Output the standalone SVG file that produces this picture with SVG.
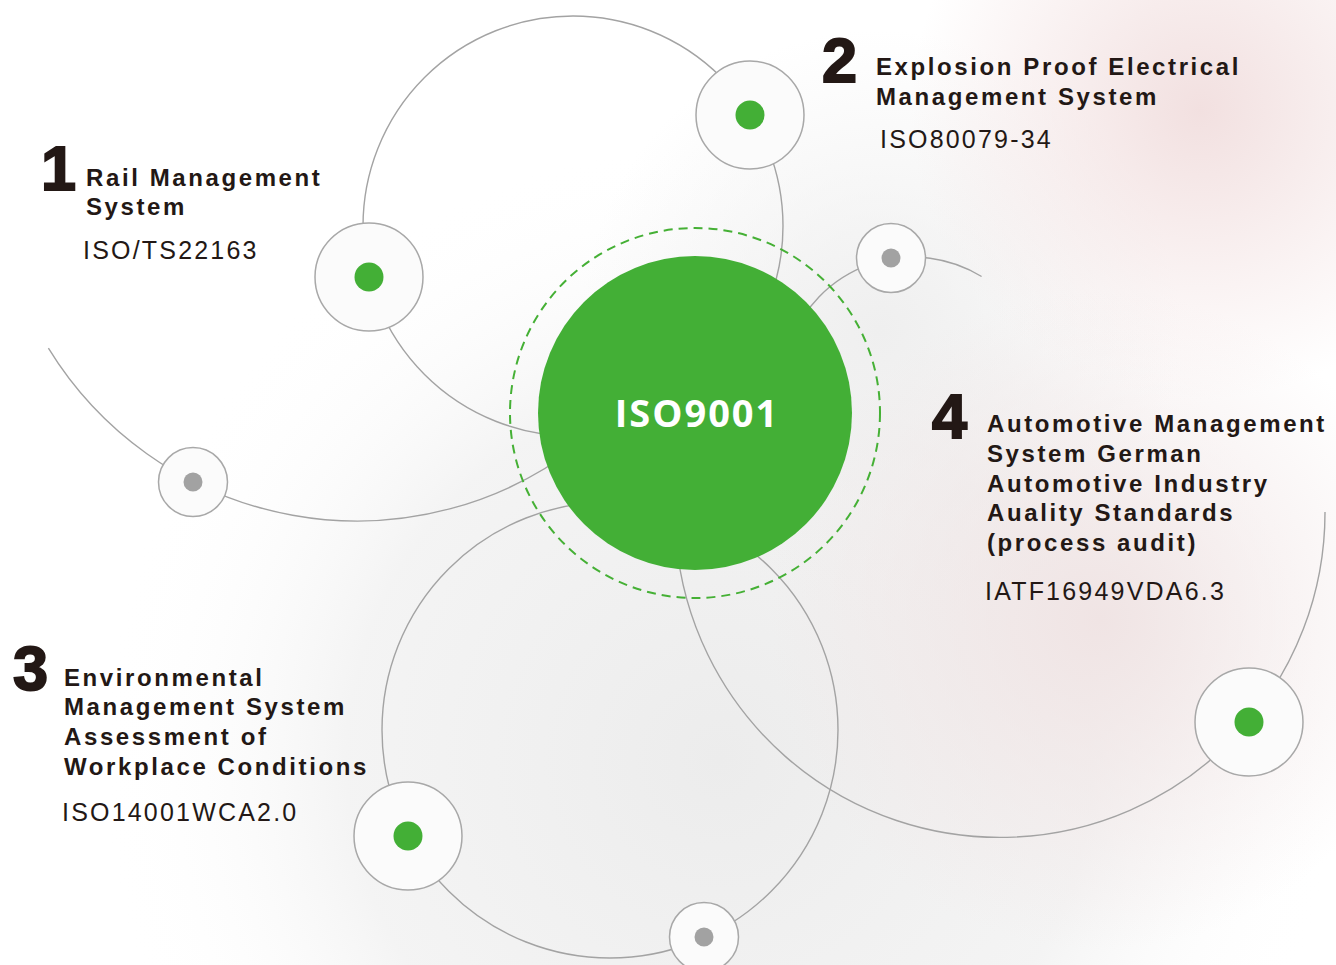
<svg xmlns="http://www.w3.org/2000/svg" width="1336" height="965" viewBox="0 0 1336 965">
<defs>
<radialGradient id="bgGray" cx="720" cy="760" r="620" gradientUnits="userSpaceOnUse">
<stop offset="0" stop-color="#ECECEC"/>
<stop offset="0.6" stop-color="#F1F1F1" stop-opacity="0.8"/>
<stop offset="1" stop-color="#FFFFFF" stop-opacity="0"/>
</radialGradient>
<radialGradient id="bgPink1" cx="1200" cy="110" r="290" gradientUnits="userSpaceOnUse">
<stop offset="0" stop-color="#F2E0E0"/>
<stop offset="1" stop-color="#F2E0E0" stop-opacity="0"/>
</radialGradient>
<radialGradient id="bgPink2" cx="1100" cy="620" r="330" gradientUnits="userSpaceOnUse">
<stop offset="0" stop-color="#F0E4E4"/>
<stop offset="1" stop-color="#F0E4E4" stop-opacity="0"/>
</radialGradient>
<radialGradient id="bgGray2" cx="880" cy="330" r="300" gradientUnits="userSpaceOnUse">
<stop offset="0" stop-color="#EFEFEF"/>
<stop offset="1" stop-color="#EFEFEF" stop-opacity="0"/>
</radialGradient>
<style>
.arc{fill:none;stroke:#A3A3A3;stroke-width:1.4}
.ring{fill:#FBFBFB;stroke:#A8A8A8;stroke-width:1.5}
.gdot{fill:#43AF36}
.sdot{fill:#A2A2A2}
.num{font-family:"Liberation Sans",Arial,sans-serif;font-weight:bold;font-size:63px;fill:#231815;stroke:#231815;stroke-width:2}
.title{font-family:"Liberation Sans",Arial,sans-serif;font-weight:bold;font-size:24px;letter-spacing:2.6px;fill:#231815}
.code{font-family:"Liberation Sans",Arial,sans-serif;font-size:25px;letter-spacing:2.2px;fill:#231815}
</style>
</defs>
<rect width="1336" height="965" fill="#FFFFFF"/>
<rect width="1336" height="965" fill="url(#bgGray)"/>
<rect width="1336" height="965" fill="url(#bgGray2)"/>
<rect width="1336" height="965" fill="url(#bgPink1)"/>
<rect width="1336" height="965" fill="url(#bgPink2)"/>

<g id="connectors">
<circle class="arc" cx="573" cy="226" r="210"/>
<path class="arc" d="M 48.4 348.1 A 362 362 0 0 0 579.9 444.3"/>
<circle class="arc" cx="610" cy="730" r="228"/>
<path class="arc" d="M 676.2 540.3 A 325 325 0 0 0 1325 512"/>
<path class="arc" d="M 789.9 343.2 A 131 131 0 0 1 981.6 276.5"/>
</g>

<g id="center">
<circle cx="695" cy="413" r="185" fill="none" stroke="#45B035" stroke-width="2" stroke-dasharray="9 6"/>
<circle cx="695" cy="413" r="157" fill="#43AF36"/>
<text x="697" y="427" text-anchor="middle" font-family="'Open Sans','Noto Sans',sans-serif" font-weight="bold" font-size="38" letter-spacing="2" fill="#FFFFFF">ISO9001</text>
</g>

<g id="node1">
<circle class="ring" cx="369" cy="277" r="54"/>
<circle class="gdot" cx="369" cy="277" r="14.5"/>
<text class="num" x="41" y="190">1</text>
<text class="title" x="86" y="186">Rail Management</text>
<text class="title" x="86" y="215">System</text>
<text class="code" x="83" y="259">ISO/TS22163</text>
</g>

<g id="node2">
<circle class="ring" cx="750" cy="115" r="54"/>
<circle class="gdot" cx="750" cy="115" r="14.5"/>
<text class="num" x="822" y="82">2</text>
<text class="title" x="876" y="75">Explosion Proof Electrical</text>
<text class="title" x="876" y="105">Management System</text>
<text class="code" x="880" y="148">ISO80079-34</text>
</g>

<g id="node3">
<circle class="ring" cx="408" cy="836" r="54"/>
<circle class="gdot" cx="408" cy="836" r="14.5"/>
<text class="num" x="13" y="690">3</text>
<text class="title" x="64" y="686">Environmental</text>
<text class="title" x="64" y="715">Management System</text>
<text class="title" x="64" y="745">Assessment of</text>
<text class="title" x="64" y="775">Workplace Conditions</text>
<text class="code" x="62" y="821">ISO14001WCA2.0</text>
</g>

<g id="node4">
<circle class="ring" cx="1249" cy="722" r="54"/>
<circle class="gdot" cx="1249" cy="722" r="14.5"/>
<text class="num" x="932" y="438">4</text>
<text class="title" x="987" y="432">Automotive Management</text>
<text class="title" x="987" y="462">System German</text>
<text class="title" x="987" y="492">Automotive Industry</text>
<text class="title" x="987" y="521">Auality Standards</text>
<text class="title" x="987" y="551">(process audit)</text>
<text class="code" x="985" y="600">IATF16949VDA6.3</text>
</g>

<g id="small-node-left">
<circle class="ring" cx="193" cy="482" r="34.5"/>
<circle class="sdot" cx="193" cy="482" r="9.5"/>
</g>
<g id="small-node-right">
<circle class="ring" cx="891" cy="258" r="34.5"/>
<circle class="sdot" cx="891" cy="258" r="9.5"/>
</g>
<g id="small-node-bottom">
<circle class="ring" cx="704" cy="937" r="34.5"/>
<circle class="sdot" cx="704" cy="937" r="9.5"/>
</g>
</svg>
